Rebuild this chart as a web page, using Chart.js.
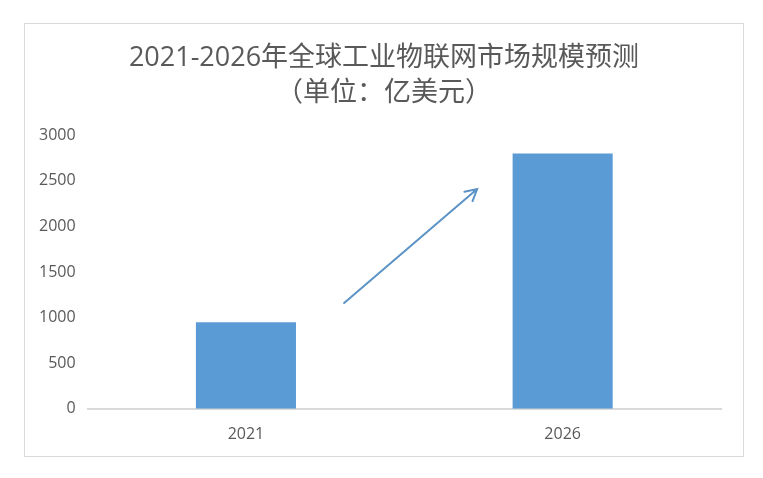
<!DOCTYPE html>
<html>
<head>
<meta charset="utf-8">
<script src="https://cdn.jsdelivr.net/npm/chart.js@4"></script>
<style>
    body { margin: 0; background: #fff; }
    .frame {
        position: absolute; left: 24px; top: 23px;
        width: 718px; height: 432px;
        border: 1.5px solid #d9d9d9;
    }
    canvas { display: block; }
</style>
</head>
<body>
<div class="frame"><canvas id="chart" width="718" height="432"></canvas></div>
<script>
// Data
const years = ['2021', '2026'];
const marketSize = [950, 2800];
const titleLines = ['2021-2026年全球工业物联网市场规模预测', '（单位：亿美元）'];
// trend arrow, in (category index, value)
const arrowFrom = [0.31, 1160];
const arrowTo = [0.73, 2410];

const FONT = '"Open Sans", "Noto Sans CJK SC", sans-serif';
const TEXT = '#595959';

const arrowPlugin = {
    id: 'trendArrow',
    afterDatasetsDraw(chart) {
        const { ctx, scales: { x, y } } = chart;
        const x1 = x.getPixelForValue(arrowFrom[0]), y1 = y.getPixelForValue(arrowFrom[1]);
        const x2 = x.getPixelForValue(arrowTo[0]), y2 = y.getPixelForValue(arrowTo[1]);
        const ang = Math.atan2(y2 - y1, x2 - x1);
        const head = 13;
        ctx.save();
        ctx.strokeStyle = '#5b93c6';
        ctx.lineWidth = 2;
        ctx.lineCap = 'round';
        ctx.beginPath();
        ctx.moveTo(x1, y1);
        ctx.lineTo(x2, y2);
        ctx.moveTo(x2 - head * Math.cos(ang - 0.5), y2 - head * Math.sin(ang - 0.5));
        ctx.lineTo(x2, y2);
        ctx.lineTo(x2 - head * Math.cos(ang + 0.5), y2 - head * Math.sin(ang + 0.5));
        ctx.stroke();
        ctx.restore();
    }
};

new Chart(document.getElementById('chart'), {
    type: 'bar',
    data: {
        labels: years,
        datasets: [{
            data: marketSize,
            backgroundColor: '#5b9bd5',
            categoryPercentage: 1,
            barPercentage: 0.316
        }]
    },
    options: {
        responsive: false,
        animation: false,
        layout: { padding: { left: 12, right: 12, top: 0, bottom: 4 } },
        plugins: {
            legend: { display: false },
            tooltip: { enabled: false },
            title: {
                display: true,
                text: titleLines,
                color: TEXT,
                font: { family: FONT, size: 27, weight: 'normal', lineHeight: 1.3 },
                padding: { top: 17, bottom: 24 }
            }
        },
        scales: {
            x: {
                grid: { display: false },
                border: { color: '#d9d9d9', width: 2 },
                ticks: { color: TEXT, font: { family: FONT, size: 16 }, padding: 8 }
            },
            y: {
                min: 0, max: 3000,
                grid: { display: false, drawTicks: false },
                border: { display: false },
                afterFit: scale => { scale.width -= 10; },
                ticks: {
                    stepSize: 500, color: TEXT, font: { family: FONT, size: 16 }, padding: 12,
                    callback: v => String(v)
                }
            },
            // empty spacer on the right so the plot ends where the original does
            spacer: {
                type: 'linear',
                position: 'right',
                grid: { display: false },
                border: { display: false },
                ticks: { display: false },
                afterFit: scale => { scale.width = 10; }
            }
        }
    },
    plugins: [arrowPlugin]
});
</script>
</body>
</html>
